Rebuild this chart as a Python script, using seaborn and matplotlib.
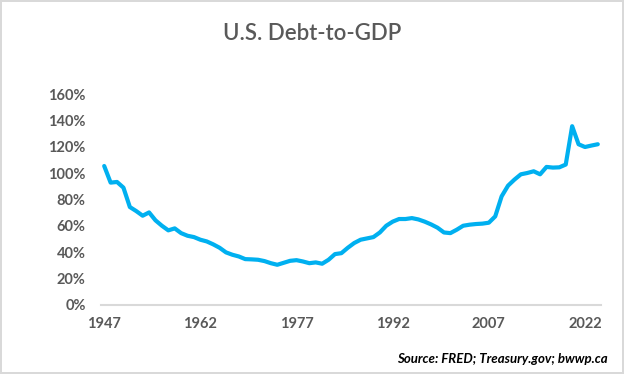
import numpy as np
import pandas as pd
import matplotlib
matplotlib.use("Agg")
import matplotlib.pyplot as plt
import seaborn as sns

# annual debt-to-GDP ratio (%)
years = list(range(1947, 2025))
debt_to_gdp = [
    105.4, 92.8, 93.3, 89.0, 74.3, 71.2, 67.7, 70.2, 64.2, 60.1,
    56.6, 58.1, 54.5, 52.5, 51.5, 49.5, 48.2, 46.0, 43.4, 39.9,
    38.1, 36.8, 34.8, 34.6, 34.3, 33.3, 31.7, 30.5, 32.0, 33.5,
    34.0, 33.0, 31.7, 32.3, 31.3, 34.3, 38.6, 39.3, 43.4, 47.0,
    49.5, 50.5, 51.5, 55.0, 60.1, 63.2, 65.2, 65.2, 65.9, 64.9,
    63.2, 61.1, 58.6, 55.0, 54.5, 57.1, 60.1, 60.9, 61.4, 61.7,
    62.4, 67.2, 82.4, 90.5, 95.1, 99.1, 100.1, 101.4, 99.1, 104.7,
    104.2, 104.4, 106.5, 135.6, 121.9, 119.8, 120.9, 121.9,
]
tick_years = [1947, 1962, 1977, 1992, 2007, 2022]
y_ticks = [0, 20, 40, 60, 80, 100, 120, 140, 160]

df = pd.DataFrame({"year": years, "ratio": debt_to_gdp})

sns.set_style("white")
plt.rcParams["font.family"] = ["Lato", "DejaVu Sans"]

fig = plt.figure(figsize=(6.24, 3.74), dpi=100)
fig.patch.set_edgecolor("#d9d9d9")
fig.patch.set_linewidth(1.5)
ax = fig.add_axes([101 / 624, 1 - 305 / 374, 500 / 624, 211 / 374])

sns.lineplot(data=df, x="year", y="ratio", ax=ax, color="#00b0f0", linewidth=3)

ax.set_xlim(1946.5, 2024.5)
ax.set_ylim(0, 160)
ax.set_xticks(tick_years)
ax.set_yticks(y_ticks)
ax.set_yticklabels([f"{v}%" for v in y_ticks])
ax.set_xlabel("")
ax.set_ylabel("")
ax.tick_params(axis="both", length=0, labelsize=10.5, labelcolor="#595959")
ax.tick_params(axis="y", pad=11)
ax.tick_params(axis="x", pad=9)
for lab in ax.get_xticklabels() + ax.get_yticklabels():
    lab.set_fontweight("bold")

for side in ["top", "right", "left"]:
    ax.spines[side].set_visible(False)
ax.spines["bottom"].set_color("#d9d9d9")
ax.spines["bottom"].set_linewidth(1.5)

fig.text(0.5, 1 - 34 / 374, "U.S. Debt-to-GDP", ha="center", va="center",
         fontsize=16, fontweight="semibold", color="#595959")
fig.text(608 / 624, 1 - 359 / 374, "Source: FRED; Treasury.gov; bwwp.ca",
         ha="right", va="center", fontsize=9.5, fontweight="bold",
         fontstyle="italic", color="black")

fig.savefig("out.png", dpi=100)
